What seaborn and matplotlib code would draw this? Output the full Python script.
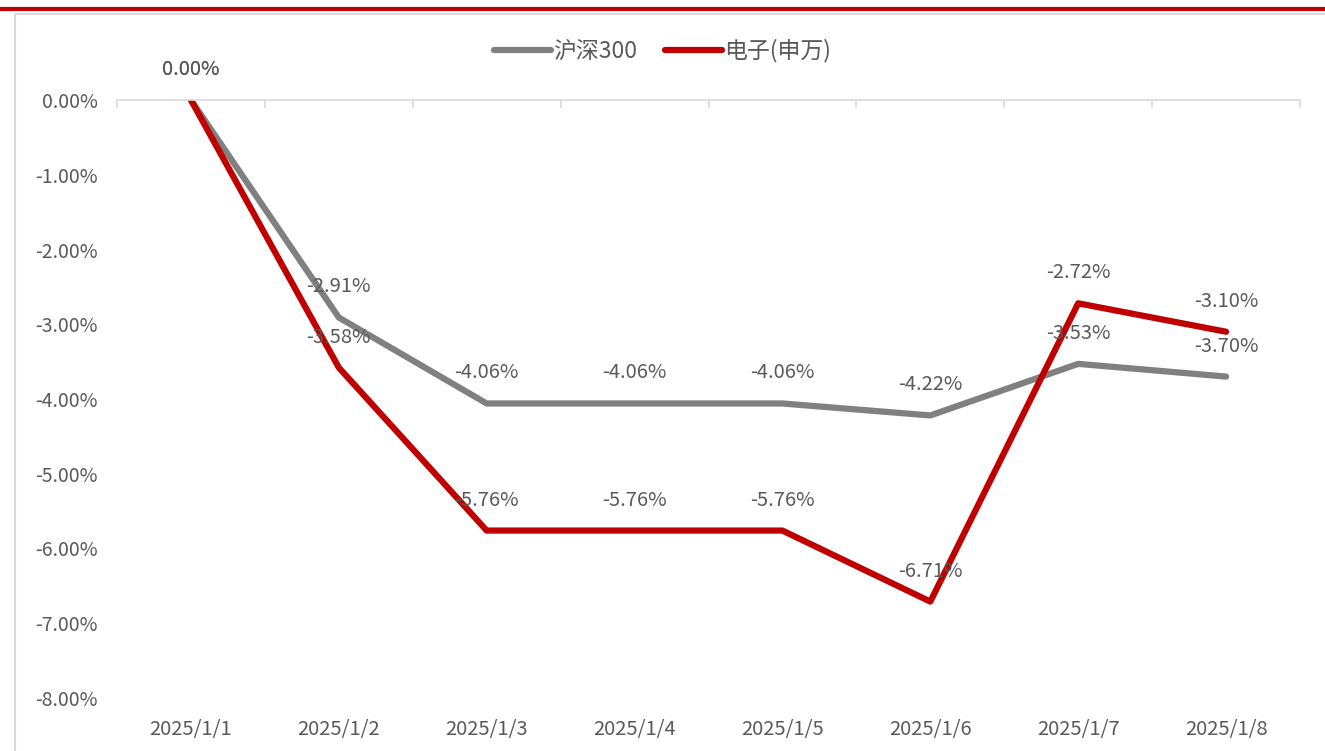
import matplotlib
matplotlib.use("Agg")
import matplotlib.pyplot as plt
from matplotlib.lines import Line2D
import seaborn as sns
import pandas as pd
import numpy as np

dates = ["2025/1/1", "2025/1/2", "2025/1/3", "2025/1/4", "2025/1/5", "2025/1/6", "2025/1/7", "2025/1/8"]
hs300 = [0.00, -2.91, -4.06, -4.06, -4.06, -4.22, -3.53, -3.70]
elec = [0.00, -3.58, -5.76, -5.76, -5.76, -6.71, -2.72, -3.10]
series_names = ["沪深300", "电子(申万)"]
colors = ["#808080", "#C00000"]
yticks = [0, -1, -2, -3, -4, -5, -6, -7, -8]

sns.set_theme(style="white")
plt.rcParams["font.family"] = ["Noto Sans CJK SC", "DejaVu Sans"]

df = pd.DataFrame({
    "x": list(range(len(dates))) * 2,
    "val": hs300 + elec,
    "series": [series_names[0]] * len(dates) + [series_names[1]] * len(dates),
})

fig = plt.figure(figsize=(13.25, 7.51), dpi=100)
W, H = 1325, 751
ax = fig.add_axes([117 / W, 1 - 698 / H, (1300 - 117) / W, (698 - 100) / H])

sns.lineplot(data=df, x="x", y="val", hue="series", palette=colors, linewidth=4.5,
             ax=ax, legend=False, solid_capstyle="round")

txtc = "#595959"
for vals in (hs300, elec):
    for i, v in enumerate(vals):
        ax.annotate(f"{v:.2f}%", (i, v), xytext=(0, 22), textcoords="offset points",
                    ha="center", va="center", fontsize=14.5, color=txtc)

ax.set_xlim(-0.5, len(dates) - 0.5)
ax.set_ylim(-8, 0)
ax.set_yticks(yticks)
ax.set_yticklabels([f"{t:.2f}%" for t in yticks])
ax.set_xticks(range(len(dates)))
ax.set_xticklabels(dates)
ax.set_xticks(np.arange(-0.5, len(dates), 1.0), minor=True)
ax.tick_params(axis="x", which="major", length=0, pad=15, labelsize=14.5, labelcolor=txtc)
ax.tick_params(axis="y", length=0, pad=14, labelsize=14, labelcolor=txtc)
ax.tick_params(axis="x", which="minor", top=True, bottom=False, direction="in",
               length=6, width=1.2, color="#d9d9d9")
ax.set_xlabel("")
ax.set_ylabel("")
for s in ["left", "right", "bottom"]:
    ax.spines[s].set_visible(False)
ax.spines["top"].set_color("#d9d9d9")
ax.spines["top"].set_linewidth(1.2)
ax.grid(False)

handles = [Line2D([0], [0], color=c, lw=4.5, solid_capstyle="round") for c in colors]
fig.legend(handles, series_names, loc="center", bbox_to_anchor=(0.5, 1 - 51 / H), ncol=2,
           frameon=False, fontsize=16.5, labelcolor=txtc, handlelength=2.5,
           handletextpad=0.1, columnspacing=1.2)

# frame decorations
fig.add_artist(Line2D([0, 1], [1 - 8.5 / H, 1 - 8.5 / H], color="#C00000", lw=3, transform=fig.transFigure))
fig.add_artist(Line2D([15 / W, 1], [1 - 14 / H, 1 - 14 / H], color="#d9d9d9", lw=1.5, transform=fig.transFigure))
fig.add_artist(Line2D([15 / W, 15 / W], [0, 1 - 14 / H], color="#d9d9d9", lw=1.5, transform=fig.transFigure))

fig.savefig("out.png", dpi=100)
